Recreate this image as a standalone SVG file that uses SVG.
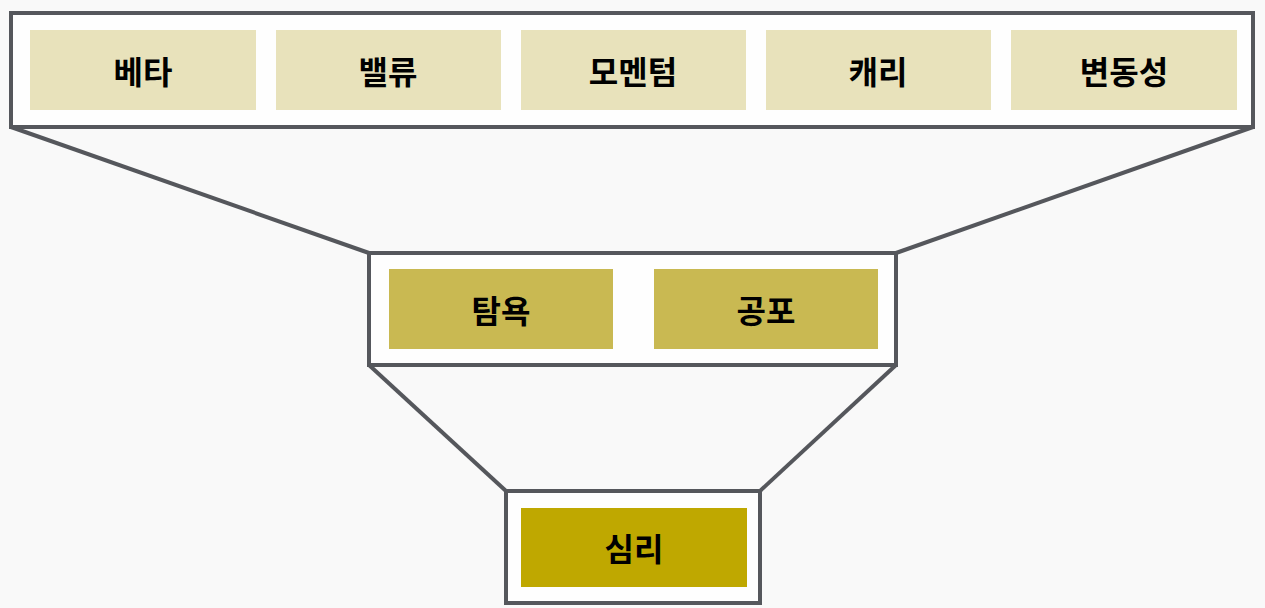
<svg xmlns="http://www.w3.org/2000/svg" width="1265" height="608" viewBox="0 0 1265 608">
<style>
.frame{fill:#fefefe;stroke:#55575c;stroke-width:4}
.conn{stroke:#55575c;stroke-width:4;fill:none}
.t{font-family:"Noto Sans CJK KR","Noto Sans",sans-serif;font-weight:bold;font-size:32px;fill:#000;text-anchor:middle;dominant-baseline:central}
.l1{fill:#e8e2bb}
.l2{fill:#c9b952}
.l3{fill:#bfa800}
</style>
<rect width="1265" height="608" fill="#f9f9f9"/>
<g id="connectors">
<line class="conn" x1="11" y1="127" x2="369" y2="253"/>
<line class="conn" x1="1253" y1="127" x2="896" y2="253"/>
<line class="conn" x1="369" y1="365" x2="506" y2="491"/>
<line class="conn" x1="896" y1="365" x2="760" y2="491"/>
</g>
<g id="top-frame"><rect class="frame" x="11" y="13" width="1242" height="114"/></g>
<g id="mid-frame"><rect class="frame" x="369" y="253" width="527" height="112"/></g>
<g id="bot-frame"><rect class="frame" x="506" y="491" width="254" height="112"/></g>
<g id="beta"><rect class="l1" x="30" y="30" width="226" height="80"/><text class="t" x="143" y="70">베타</text></g>
<g id="value"><rect class="l1" x="276" y="30" width="225" height="80"/><text class="t" x="388" y="70">밸류</text></g>
<g id="momentum"><rect class="l1" x="521" y="30" width="225" height="80"/><text class="t" x="633" y="70">모멘텀</text></g>
<g id="carry"><rect class="l1" x="766" y="30" width="225" height="80"/><text class="t" x="878" y="70">캐리</text></g>
<g id="volatility"><rect class="l1" x="1011" y="30" width="226" height="80"/><text class="t" x="1124" y="70">변동성</text></g>
<g id="greed"><rect class="l2" x="389" y="269" width="224" height="80"/><text class="t" x="501" y="309">탐욕</text></g>
<g id="fear"><rect class="l2" x="654" y="269" width="224" height="80"/><text class="t" x="766" y="309">공포</text></g>
<g id="psychology"><rect class="l3" x="521" y="508" width="226" height="79"/><text class="t" x="634" y="547">심리</text></g>
</svg>
